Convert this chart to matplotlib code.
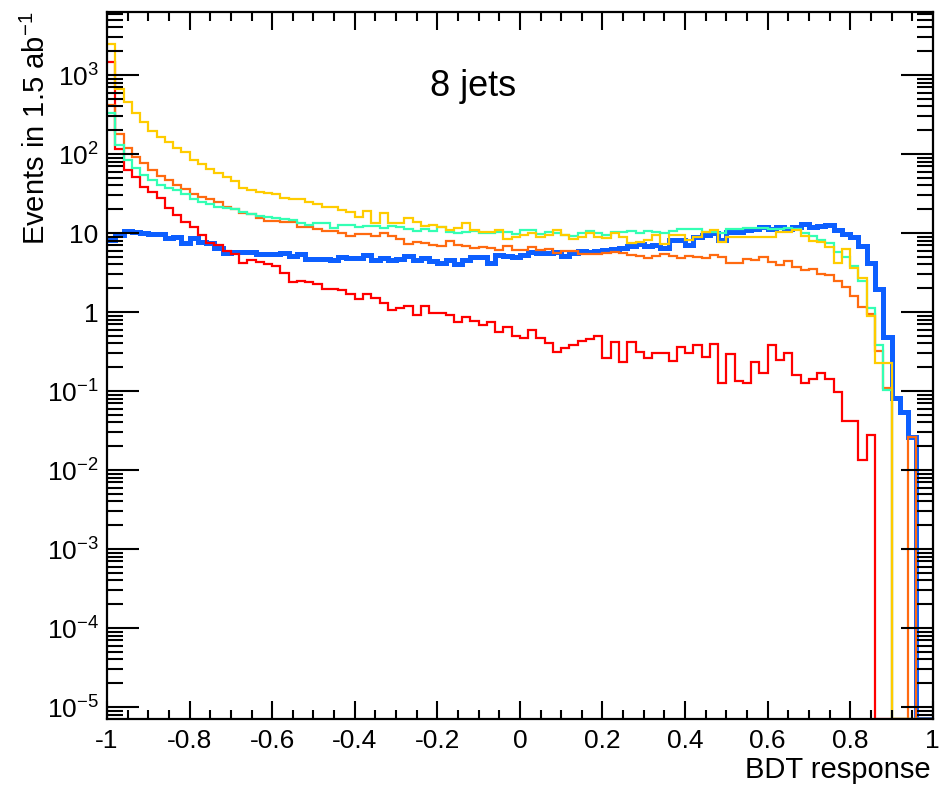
import numpy as np
import matplotlib
matplotlib.use("Agg")
import matplotlib.pyplot as plt
from matplotlib.ticker import MultipleLocator, FixedLocator, FuncFormatter, LogLocator, NullFormatter

plt.rcParams['font.family'] = ['Liberation Sans', 'DejaVu Sans']
plt.rcParams['mathtext.default'] = 'regular'

# 100 bins of BDT response from -1 to 1
edges = np.linspace(-1, 1, 101)

# events per bin (0 = empty bin)
yellow = [2470, 665, 455, 330, 254, 196, 164, 142, 119, 106,
          84, 75, 64, 57, 51, 45, 37, 35, 33, 32,
          31, 27.7, 27, 27, 24.6, 23.3, 21.3, 21.3, 19.5, 18.5,
          15.9, 19, 13.4, 18, 13.4, 13.4, 15.5, 13.8, 12.3, 12.8,
          11.9, 10.9, 11.5, 13.4, 10.9, 10.3, 10.3, 10.9, 8.4, 8.9,
          9.5, 10, 8.9, 9.5, 10.9, 9.5, 8.4, 8.9, 10, 8.9,
          8.6, 10, 8.9, 7.5, 7.6, 8.1, 9.5, 7.3, 9.5, 9.5,
          8.1, 8.9, 10.3, 10.9, 7.8, 8.9, 8.9, 8.9, 8.9, 8.9,
          9.0, 10.2, 10.2, 10.8, 9.3, 7.9, 7.7, 6.7, 4.2, 6.3,
          3.6, 2.7, 0.9, 0.226, 0.226, 0, 0, 0, 0, 0]

cyan = [330, 130, 84, 66, 54, 47, 40.5, 37, 35, 31,
        27, 24.6, 23.3, 21.3, 21, 20, 18.5, 17.4, 16.4, 15.9,
        15.5, 15, 14.6, 13.4, 12.6, 13.4, 13.4, 11.6, 12.6, 12.6,
        11.9, 12.2, 12.2, 11.6, 12.2, 11.9, 11.2, 10.6, 11.2, 10.5,
        11.9, 10.3, 10, 10.3, 10.6, 10, 10, 10.3, 10.3, 9.7,
        10.9, 10.9, 9.7, 10.3, 9.9, 9.4, 9.3, 9.9, 10.6, 10,
        9.4, 10.3, 10.3, 10.6, 10, 10.6, 10.3, 10, 10.6, 11.2,
        11.2, 11.2, 10.2, 10.2, 10, 11.2, 11.2, 11.6, 11.6, 11.6,
        11.2, 11.2, 11.6, 11.2, 10, 9.2, 8.1, 7.5, 5.7, 5,
        3.8, 2.5, 1.12, 0.38, 0.103, 0, 0, 0, 0, 0]

orange = [420, 179, 119, 91, 77, 63, 52.7, 47, 40.5, 36,
          31, 28.5, 27, 24.6, 21.3, 20, 18, 17.4, 15.5, 14.4,
          14.3, 13.8, 13.8, 11.9, 11.9, 11.2, 10.6, 10.6, 10, 9.2,
          9.7, 9.7, 9.2, 10, 9.2, 8.4, 7.3, 7.7, 7.5, 7.0,
          6.8, 7.9, 7.0, 6.8, 6.45, 6.6, 6.45, 6.1, 6.8, 6.1,
          6.1, 6.6, 6.1, 6.2, 5.6, 6.0, 6.0, 5.4, 5.4, 5.5,
          5.6, 5.8, 5.6, 5.25, 5.1, 4.8, 5.1, 5.5, 5.1, 4.8,
          5.1, 5.0, 4.8, 5.25, 5.0, 4.2, 4.2, 4.7, 4.5, 5.0,
          4.3, 3.9, 4.4, 3.7, 3.4, 3.5, 3.0, 2.9, 2.45, 2.07,
          1.6, 1.16, 0.94, 0.32, 0.109, 0, 0, 0.026, 0, 0]

red = [1460, 115, 63, 51, 38, 33, 28, 21, 17, 13.8,
       11.9, 9.4, 7.5, 7.0, 5.9, 5.4, 4.2, 4.55, 4.3, 4.0,
       3.8, 3.1, 2.4, 2.5, 2.4, 2.26, 1.95, 1.98, 1.9, 1.7,
       1.46, 1.7, 1.5, 1.3, 1.06, 1.12, 1.19, 0.92, 1.19, 0.97,
       0.96, 0.92, 0.75, 0.86, 0.77, 0.68, 0.75, 0.56, 0.65, 0.5,
       0.47, 0.59, 0.47, 0.405, 0.31, 0.35, 0.38, 0.43, 0.455, 0.5,
       0.26, 0.42, 0.235, 0.42, 0.315, 0.26, 0.305, 0.305, 0.242, 0.357,
       0.3, 0.38, 0.272, 0.39, 0.125, 0.294, 0.135, 0.125, 0.235, 0.167,
       0.38, 0.247, 0.3, 0.16, 0.126, 0.142, 0.169, 0.14, 0.097, 0.042,
       0.042, 0.0134, 0.028, 0, 0, 0, 0, 0, 0, 0]

blue = [8.2, 9.4, 10.6, 10.3, 10.0, 9.6, 9.6, 8.6, 8.8, 7.5,
        8.6, 7.7, 7.5, 6.45, 5.6, 5.8, 5.7, 5.7, 5.4, 5.4,
        5.4, 5.6, 5.1, 5.5, 4.7, 4.7, 4.65, 4.6, 5.0, 4.8,
        4.8, 5.3, 4.6, 4.8, 4.6, 4.7, 5.1, 4.6, 4.8, 4.4,
        4.2, 4.55, 4.1, 4.6, 5.0, 5.0, 4.2, 5.3, 5.1, 5.0,
        5.3, 5.75, 5.6, 5.6, 5.75, 5.1, 5.6, 5.9, 5.8, 6.0,
        6.1, 6.2, 6.45, 6.85, 7.3, 6.9, 7.1, 6.45, 8.1, 8.2,
        7.1, 8.9, 9.4, 10, 8.1, 10.3, 10.3, 10.9, 11.2, 11.9,
        11.2, 11.9, 11.2, 12, 13, 11.9, 12.3, 12.6, 11, 9.7,
        8.9, 6.85, 4.2, 1.95, 0.48, 0.082, 0.054, 0.026, 0, 0]

ymin, ymax = 7.05e-6, 6270

fig = plt.figure(figsize=(9.47, 7.86), dpi=100)
ax = fig.add_axes([0.113, 0.0852, 0.872, 0.8995])

# drawing order: blue at the bottom, yellow on top
series = [(blue, "#0d5fff", 3.6), (red, "#ff0000", 1.6), (orange, "#ff6a10", 1.6),
          (cyan, "#33ffb4", 1.6), (yellow, "#ffcc00", 1.6)]
for vals, col, lw in series:
    v = np.array(vals, dtype=float)
    v = np.where(v > 0, v, ymin)  # empty bins drawn on the floor, like ROOT
    ax.stairs(v, edges, baseline=None, color=col, linewidth=lw)

ax.set_yscale("log")
ax.set_xlim(-1, 1)
ax.set_ylim(ymin, ymax)

# x ticks
ax.xaxis.set_major_locator(MultipleLocator(0.2))
ax.xaxis.set_minor_locator(MultipleLocator(0.05))
ax.xaxis.set_major_formatter(FuncFormatter(lambda v, p: "0" if abs(v) < 1e-9 else f"{v:g}"))

# y ticks
def ylab(v, p):
    e = int(round(np.log10(v)))
    if e == 0:
        return "1"
    if e == 1:
        return "10"
    return "10$^{%d}$" % e

ax.yaxis.set_major_locator(FixedLocator([10.0 ** e for e in range(-5, 4)]))
ax.yaxis.set_major_formatter(FuncFormatter(ylab))
ax.yaxis.set_minor_locator(LogLocator(base=10, subs=np.arange(2, 10), numticks=20))
ax.yaxis.set_minor_formatter(NullFormatter())

ax.tick_params(which="both", direction="in", top=True, right=True, width=1.5,
               labelsize=19, colors="black")
ax.tick_params(axis="x", which="major", length=13, pad=7)
ax.tick_params(axis="x", which="minor", length=6.5)
ax.tick_params(axis="y", which="major", length=23, pad=6)
ax.tick_params(axis="y", which="minor", length=11.5)
for s in ax.spines.values():
    s.set_linewidth(1.6)

ax.set_xlabel("BDT response", fontsize=21, loc="right")
ax.xaxis.set_label_coords(0.997, -0.052)
ax.set_ylabel("Events in 1.5 ab$^{-1}$", fontsize=21, loc="top")
ax.yaxis.set_label_coords(-0.068, 1.0)

fig.text(473 / 947, 1 - 86 / 786, "8 jets", fontsize=26, ha="center", va="center")

plt.savefig("out.png", dpi=100)
